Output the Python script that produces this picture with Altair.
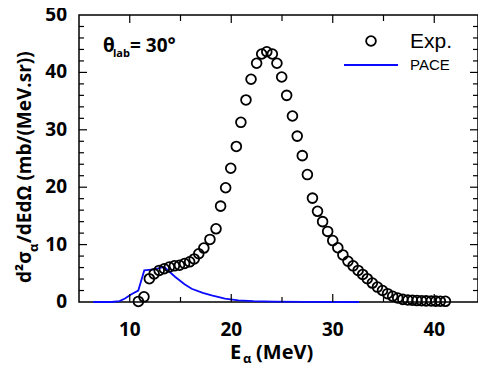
import altair as alt
import pandas as pd

# Experimental data (E_alpha in MeV, d2sigma/dEdOmega in mb/(MeV.sr))
exp_x = [10.85, 11.4, 11.93, 12.4, 12.9, 13.4, 13.9, 14.4, 14.9, 15.4, 15.9, 16.35,
         16.8, 17.3, 17.9, 18.5, 18.95, 19.45, 19.95, 20.5, 20.95, 21.45, 21.95,
         22.5, 23.0, 23.5, 24.05, 24.5, 24.97, 25.46, 26.03, 26.5, 27.0, 27.5, 28.0,
         28.5, 29.0, 29.5, 30.0, 30.5, 31.0, 31.5, 32.0, 32.5, 32.95, 33.4, 33.9,
         34.4, 34.9, 35.4, 35.9, 36.4, 36.9, 37.4, 37.85, 38.3, 38.75, 39.2, 39.7,
         40.15, 40.6, 41.1]
exp_y = [0.1, 0.9, 4.06, 4.9, 5.5, 5.8, 6.1, 6.3, 6.4, 6.7, 7.0, 7.5,
         8.4, 9.4, 10.9, 12.75, 16.7, 19.9, 23.3, 27.1, 31.3, 35.2, 38.8,
         41.6, 43.2, 43.6, 43.2, 41.6, 39.2, 36.0, 32.4, 28.9, 25.5, 22.2, 18.1,
         15.8, 14.0, 12.3, 10.7, 9.45, 8.2, 7.1, 6.3, 5.5, 4.8, 4.06, 3.3,
         2.6, 2.0, 1.45, 1.0, 0.7, 0.46, 0.35, 0.3, 0.25, 0.22, 0.2, 0.18,
         0.15, 0.13, 0.12]

# PACE calculation
pace_x = [6.4, 8.2, 9.0, 9.53, 10.12, 10.84, 11.43, 12.4, 13.4, 14.46, 15.4, 16.1,
          17.2, 18.07, 19.38, 20.7, 22.2, 24.2, 27.2, 32.6]
pace_y = [0.0, 0.0, 0.15, 0.6, 1.3, 2.0, 5.5, 5.7, 6.1, 4.4, 3.1, 2.3,
          1.6, 1.17, 0.6, 0.3, 0.15, 0.06, 0.02, 0.0]

x_labels = [10, 20, 30, 40]
y_labels = [0, 10, 20, 30, 40, 50]
x_major = [10, 20, 30, 40]
x_minor = [15, 25, 35]
y_major = [10, 20, 30, 40]
y_minor = [2, 4, 6, 8, 12, 14, 16, 18, 22, 24, 26, 28, 32, 34, 36, 38, 42, 44, 46, 48]

PXU = 10.15           # px per MeV in the reference
W, H = 399, 287
FONT = "Open Sans"
BOLD = "bold"
XMIN, XMAX, YMIN, YMAX = 5, 5 + W / PXU, 0, 50
UX = (XMAX - XMIN) / W   # data units per pixel
UY = (YMAX - YMIN) / H

xs = alt.Scale(domain=[XMIN, XMAX], nice=False)
ys = alt.Scale(domain=[YMIN, YMAX], nice=False)

exp_df = pd.DataFrame({"E": exp_x, "S": exp_y})
pace_df = pd.DataFrame({"E": pace_x, "S": pace_y})

points = alt.Chart(exp_df).mark_point(
    shape="circle", filled=False, color="black", size=95, strokeWidth=1.8, opacity=1
).encode(
    x=alt.X("E:Q", scale=xs,
            axis=alt.Axis(values=x_labels, title=None, ticks=False, domain=False, grid=False,
                          labels=False)),
    y=alt.Y("S:Q", scale=ys,
            axis=alt.Axis(values=y_labels, title=None, ticks=False, domain=False, grid=False,
                          labels=False)),
)

line = alt.Chart(pace_df).mark_line(color="#0a0aff", strokeWidth=1.8).encode(
    x=alt.X("E:Q", scale=xs, axis=None), y=alt.Y("S:Q", scale=ys, axis=None)
)

# ---- inward tick marks ----
def xticks(vals, ybase, length):
    return alt.Chart(pd.DataFrame({"v": vals})).mark_rule(color="black", strokeWidth=1.2).encode(
        x=alt.X("v:Q", scale=xs, axis=None),
        y=alt.datum(ybase, scale=ys), y2=alt.datum(ybase + length))

def yticks(vals, xbase, length):
    return alt.Chart(pd.DataFrame({"v": vals})).mark_rule(color="black", strokeWidth=1.2).encode(
        y=alt.Y("v:Q", scale=ys, axis=None),
        x=alt.datum(xbase, scale=xs), x2=alt.datum(xbase + length))

ticks = [
    xticks(x_major, YMIN, 8 * UY), xticks(x_minor, YMIN, 5 * UY),
    xticks(x_major, YMAX, -8 * UY), xticks(x_minor, YMAX, -6 * UY),
    yticks(y_major, XMIN, 8 * UX), yticks(y_minor, XMIN, 5 * UX),
    yticks(y_major, XMAX, -8 * UX), yticks(y_minor, XMAX, -5 * UX),
]

one = pd.DataFrame({"a": [0]})

def txt(s, x, y, size, weight="normal", font=FONT, angle=0, align="left", baseline="alphabetic", color="black"):
    return alt.Chart(one).mark_text(
        text=s, fontSize=size, fontWeight=weight, font=font, angle=angle,
        align=align, baseline=baseline, color=color
    ).encode(x=alt.value(x), y=alt.value(y))

# tick labels: pixel positions derived from the scale mapping of the label values
tick_labels = [
    txt(str(v), (v - XMIN) / UX, H + 28, 19, BOLD, align="center", baseline="middle")
    for v in x_labels
] + [
    txt(str(v), -12, H - (v - YMIN) / UY, 19, BOLD, align="right", baseline="middle")
    for v in y_labels
]

labels = [
    # x-axis title
    txt("E", 151, 344, 20, BOLD),
    txt("α", 164, 348, 13, BOLD),
    txt("(MeV)", 177, 344, 20, BOLD),
    # y-axis title (rotated)
    txt("d²σ", -48, 268, 19, BOLD, angle=270),
    txt("α", -41, 237, 13, BOLD, angle=270),
    txt("/dEdΩ (mb/(MeV.sr))", -48, 228, 19, BOLD, angle=270),
    # annotation
    txt("θ", 24, 37, 19, BOLD),
    txt("lab", 34, 42, 11, BOLD),
    txt("= 30°", 51, 37, 19, BOLD),
    # legend
    txt("Exp.", 331, 33, 21, font="Liberation Sans"),
    txt("PACE", 331, 55, 15, font="Liberation Sans"),
]

leg_pt = alt.Chart(one).mark_point(shape="circle", filled=False, color="black", size=95,
                                   strokeWidth=1.8, opacity=1).encode(
    x=alt.value(292), y=alt.value(26))
leg_line = alt.Chart(one).mark_rule(color="#0a0aff", strokeWidth=1.8).encode(
    x=alt.value(265), x2=alt.value(319), y=alt.value(50))

chart = alt.layer(line, points, *ticks, *tick_labels, *labels, leg_pt, leg_line).properties(
    width=W, height=H,
    padding={"left": 71, "top": 7, "right": 0, "bottom": 62},
    autosize=alt.AutoSizeParams(type="none"),
    background="white",
).configure_view(stroke="black", strokeWidth=1.5)

chart.save("out.html", embed_options={"renderer": "svg", "actions": False})
